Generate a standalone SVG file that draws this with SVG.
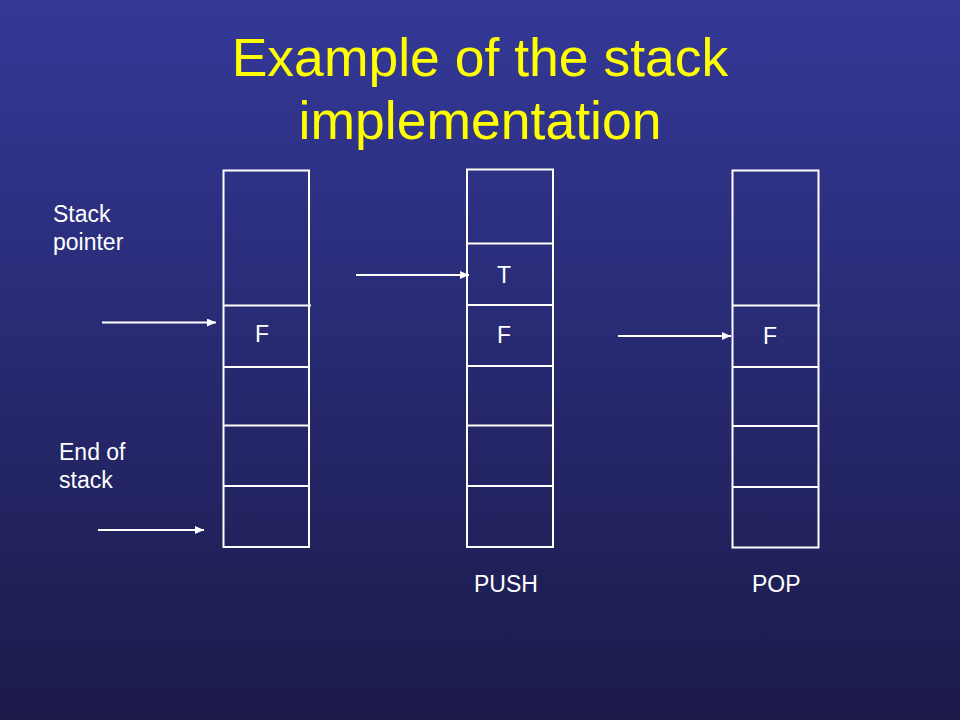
<svg xmlns="http://www.w3.org/2000/svg" width="960" height="720" viewBox="0 0 960 720">
  <defs>
    <linearGradient id="bg" x1="0" y1="0" x2="0" y2="1">
      <stop offset="0" stop-color="#343998"/>
      <stop offset="1" stop-color="#1b1a49"/>
    </linearGradient>
    <marker id="ah" markerUnits="userSpaceOnUse" markerWidth="9" markerHeight="8" refX="9" refY="4" orient="auto">
      <path d="M0,0 L9,4 L0,8 Z" fill="#ffffff"/>
    </marker>
    <style>
      .title { font-family: "Liberation Sans", Arial, sans-serif; font-size: 53.5px; fill: #ffff00; text-anchor: middle; }
      .lbl { font-family: "Liberation Sans", Arial, sans-serif; font-size: 23px; fill: #ffffff; }
      .box { fill: none; stroke: #ffffff; stroke-width: 2; }
      .conn { stroke: #ffffff; stroke-width: 2; fill: none; marker-end: url(#ah); }
    </style>
  </defs>
  <rect x="0" y="0" width="960" height="720" fill="url(#bg)"/>

  <g id="title">
    <text class="title" x="480" y="76">Example of the stack</text>
    <text class="title" x="480" y="139">implementation</text>
  </g>

  <g id="label-stack-pointer">
    <text class="lbl" x="53" y="222">Stack</text>
    <text class="lbl" x="53" y="250">pointer</text>
  </g>
  <g id="label-end-of-stack">
    <text class="lbl" x="59" y="460">End of</text>
    <text class="lbl" x="59" y="488">stack</text>
  </g>

  <g id="stack1">
    <rect class="box" x="223.5" y="170.5" width="85.5" height="376.5"/>
    <line class="box" x1="223.5" y1="305.5" x2="311" y2="305.5"/>
    <line class="box" x1="223.5" y1="367" x2="309" y2="367"/>
    <line class="box" x1="223.5" y1="425.5" x2="309" y2="425.5"/>
    <line class="box" x1="223.5" y1="486" x2="309" y2="486"/>
    <text class="lbl" x="255" y="342">F</text>
  </g>

  <g id="stack2">
    <rect class="box" x="467" y="169.5" width="86" height="377.5"/>
    <line class="box" x1="467" y1="243.5" x2="553" y2="243.5"/>
    <line class="box" x1="467" y1="305" x2="553" y2="305"/>
    <line class="box" x1="467" y1="366" x2="553" y2="366"/>
    <line class="box" x1="467" y1="425.5" x2="553" y2="425.5"/>
    <line class="box" x1="467" y1="486" x2="553" y2="486"/>
    <text class="lbl" x="497" y="283">T</text>
    <text class="lbl" x="497" y="343">F</text>
    <text class="lbl" x="474" y="592">PUSH</text>
  </g>

  <g id="stack3">
    <rect class="box" x="732.5" y="170.5" width="86" height="377"/>
    <line class="box" x1="732.5" y1="305.5" x2="820" y2="305.5"/>
    <line class="box" x1="732.5" y1="367" x2="818.5" y2="367"/>
    <line class="box" x1="732.5" y1="426" x2="818.5" y2="426"/>
    <line class="box" x1="732.5" y1="487" x2="818.5" y2="487"/>
    <text class="lbl" x="763" y="344">F</text>
    <text class="lbl" x="752" y="592">POP</text>
  </g>

  <g id="connectors">
    <line class="conn" x1="102" y1="322.5" x2="216" y2="322.5"/>
    <line class="conn" x1="98" y1="530" x2="204" y2="530"/>
    <line class="conn" x1="356" y1="275" x2="469" y2="275"/>
    <line class="conn" x1="618" y1="336" x2="731" y2="336"/>
  </g>
</svg>
